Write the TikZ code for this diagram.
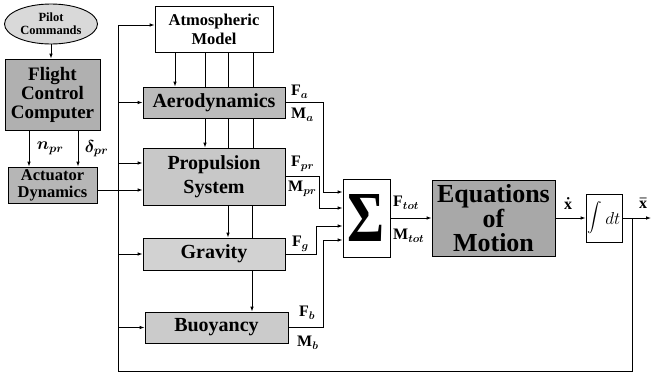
\documentclass[tikz,border=0pt]{standalone}
\usepackage{fontspec}
\setmainfont{Liberation Serif}
\usepackage{graphicx}
\usetikzlibrary{arrows.meta,positioning,shapes.geometric}
\definecolor{pilotgray}{HTML}{D9D9D9}
\definecolor{fccgray}{HTML}{B0B0B0}
\definecolor{actgray}{HTML}{B6B6B6}
\definecolor{aerogray}{HTML}{BBBBBB}
\definecolor{propgray}{HTML}{C8C8C8}
\definecolor{gravgray}{HTML}{D2D2D2}
\definecolor{buoygray}{HTML}{CBCBCB}
\definecolor{eomgray}{HTML}{A8A8A8}
\tikzset{
  >={Latex[length=5pt,width=3.6pt]},
  % blocks
  blk/.style={draw=black,line width=0.9pt,align=center,inner sep=0pt,font=\bfseries},
  gblk/.style={blk,fill=#1},
  wblk/.style={blk,fill=white},
  % lines
  ln/.style={draw=black,line width=0.9pt},
  arr/.style={->,draw=black,line width=0.9pt},
  lbl/.style={font=\fontsize{16}{16}\selectfont\boldmath,anchor=west,inner sep=0pt},
}

\begin{document}
\begin{tikzpicture}[x=1pt,y=-1pt]
\useasboundingbox (0,0) rectangle (652,375);
  % left column
  \node[ellipse,draw,line width=0.9pt,fill=pilotgray,minimum width=93pt,minimum height=40pt,
        inner sep=0pt,align=center,font=\bfseries\fontsize{12.5}{13}\selectfont] (pilot) at (51,24) {Pilot\\Commands};
  \node[gblk=fccgray,minimum width=95pt,minimum height=71pt,font=\bfseries\fontsize{19}{19}\selectfont] (fcc) at (52.5,94.5) {Flight\\Control\\Computer};
  \node[gblk=actgray,minimum width=89pt,minimum height=36pt,font=\bfseries\fontsize{16.5}{17}\selectfont] (act) at (52.5,185) {Actuator\\Dynamics};
  % model blocks
  \node[wblk,minimum width=118pt,minimum height=46pt,font=\bfseries\fontsize{16.5}{19}\selectfont] (atm) at (214,29.5) {Atmospheric\\Model};
  \node[gblk=aerogray,minimum width=142pt,minimum height=31pt,font=\bfseries\fontsize{20}{20}\selectfont] (aero) at (214,102.5) {Aerodynamics};
  \node[gblk=propgray,minimum width=142pt,minimum height=57pt,font=\bfseries\fontsize{20}{24}\selectfont] (prop) at (214,176.5) {Propulsion\\System};
  \node[gblk=gravgray,minimum width=142pt,minimum height=32pt,font=\bfseries\fontsize{20}{20}\selectfont] (grav) at (214,254) {Gravity};
  \node[gblk=buoygray,minimum width=143pt,minimum height=31pt,font=\bfseries\fontsize{20}{20}\selectfont] (buoy) at (216.5,327.5) {Buoyancy};
  % right part
  \node[wblk,minimum width=47pt,minimum height=78pt] (sum) at (366.5,218) {\resizebox{37pt}{47pt}{\textbf{Σ}}};
  \node[gblk=eomgray,minimum width=123pt,minimum height=76pt,font=\bfseries\fontsize{26}{23.5}\selectfont] (eom) at (493.5,218) {Equations\\of\\Motion};
  \node[wblk,minimum width=36pt,minimum height=48pt,font=\fontsize{17}{17}\selectfont] (integ) at (604,218) {\scalebox{1.45}{$\displaystyle\int$}$\,dt$};
  % bus and feedback
  \coordinate (bustop) at (118,25);
  \coordinate (busbot) at (118,371);
  \coordinate (fbk) at (632,218);
  \coordinate (fbkbot) at (632,371);
  \coordinate (outend) at (651,218);
  \draw[ln] (fbk) -- (fbkbot) -- (busbot) -- (bustop);
  \draw[arr] (bustop) -- (atm.west |- bustop);
  \draw[arr] (bustop |- aero) -- (aero);
  \draw[arr] (bustop |- 0,163) -- (prop.west |- 0,163);
  \draw[arr] (bustop |- grav) -- (grav);
  \draw[arr] (bustop |- buoy) -- (buoy);
  % pilot -> fcc -> actuators -> propulsion
  \draw[arr] (pilot.south) -- (pilot.south |- fcc.north);
  \draw[arr] (fcc.south -| 29,0) -- node[right=4pt,font=\fontsize{18}{18}\selectfont\boldmath] {$n_{pr}$} (act.north -| 29,0);
  \draw[arr] (fcc.south -| 78,0) -- node[right=3pt,font=\fontsize{18}{18}\selectfont\boldmath] {$\delta_{pr}$} (act.north -| 78,0);
  \draw[arr] (act.east |- 0,190) -- (prop.west |- 0,190);
  % atmosphere feeds
  \draw[arr] (atm.south -| 175,0) -- (aero.north -| 175,0);
  \draw[ln] (atm.south -| 205,0) -- (aero.north -| 205,0);
  \draw[ln] (atm.south -| 228,0) -- (aero.north -| 228,0);
  \draw[ln] (atm.south -| 253,0) -- (aero.north -| 253,0);
  \draw[arr] (aero.south -| 205,0) -- (prop.north -| 205,0);
  \draw[ln] (aero.south -| 228,0) -- (prop.north -| 228,0);
  \draw[ln] (aero.south -| 253,0) -- (prop.north -| 253,0);
  \draw[arr] (prop.south -| 228,0) -- (grav.north -| 228,0);
  \draw[ln] (prop.south -| 252,0) -- (grav.north -| 252,0);
  \draw[arr] (grav.south -| 252,0) -- (buoy.north -| 252,0);
  % forces and moments
  \draw[arr] (aero.east) -| (323,192) -- (sum.west |- 0,192);
  \draw[arr] (prop.east) -| (319,208) -- (sum.west |- 0,208);
  \draw[arr] (grav.east) -| (316,226) -- (sum.west |- 0,226);
  \draw[arr] (buoy.east) -| (323,240) -- (sum.west |- 0,240);
  \node[lbl] (fa) at (291,92) {\textbf{F}$_{a}$};
  \node[lbl] (ma) at (291,115) {\textbf{M}$_{a}$};
  \node[lbl] (fpr) at (291,164) {\textbf{F}$_{pr}$};
  \node[lbl] (mpr) at (288,189) {\textbf{M}$_{pr}$};
  \node[lbl] (fg) at (292,244) {\textbf{F}$_{g}$};
  \node[lbl] (fb) at (299,313) {\textbf{F}$_{b}$};
  \node[lbl] (mb) at (297,343) {\textbf{M}$_{b}$};
  % sum -> eom -> integrator
  \draw[arr] (sum) -- (eom);
  \node[lbl] (ftot) at (393,203) {\textbf{F}$_{tot}$};
  \node[lbl] (mtot) at (393,236) {\textbf{M}$_{tot}$};
  \draw[arr] (eom) -- (integ);
  \node[lbl] (xdot) at (564,203) {$\dot{\textbf{x}}$};
  \draw[arr] (integ) -- (outend);
  \node[lbl] (xbar) at (639,203) {$\bar{\textbf{x}}$};
\end{tikzpicture}
\end{document}
